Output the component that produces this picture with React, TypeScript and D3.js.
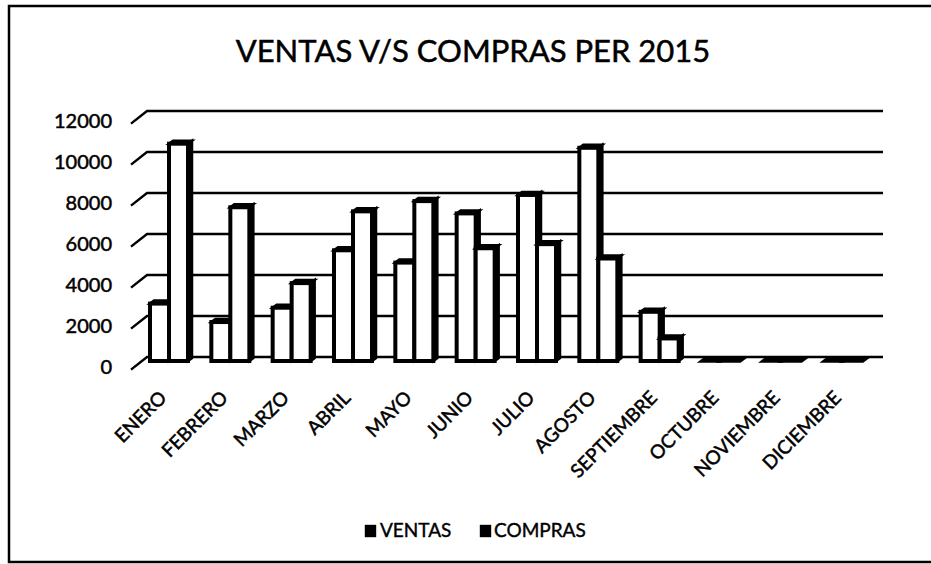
import React from 'react';
import * as d3 from 'd3';

const categories = [
  'ENERO', 'FEBRERO', 'MARZO', 'ABRIL', 'MAYO', 'JUNIO',
  'JULIO', 'AGOSTO', 'SEPTIEMBRE', 'OCTUBRE', 'NOVIEMBRE', 'DICIEMBRE',
];
const seriesNames = ['VENTAS', 'COMPRAS'];
const ventas = [2800, 1900, 2600, 5400, 4800, 7200, 8100, 10400, 2400, 0, 0, 0];
const compras = [10600, 7500, 3800, 7300, 7800, 5500, 5700, 5000, 1100, 0, 0, 0];
const yTicks = [0, 2000, 4000, 6000, 8000, 10000, 12000];

const FONT = 'Lato, "Liberation Sans", sans-serif';

// 3d offsets
const dx = 4;
const dy = -3;
const wallDx = 16;
const wallDy = -12.6;

const App = () => {
  const gridY = d3.scaleLinear().domain([0, 12000]).range([357, 111]);
  const barY = d3.scaleLinear().domain([0, 12000]).range([361, 115]);
  const x0 = d3.scaleBand().domain(categories).range([131, 867]);
  const x1 = d3.scaleBand().domain(seriesNames).range([19, 57]);

  const rows = categories.map((c, i) => ({ cat: c, values: [ventas[i], compras[i]] }));

  const bar = (x: number, w: number, v: number, key: string) => {
    const yt = barY(v);
    const yb = barY(0);
    const top = [[x, yt], [x + dx, yt + dy], [x + w + dx, yt + dy], [x + w, yt]];
    const side = [[x + w, yt], [x + w + dx, yt + dy], [x + w + dx, yb + dy], [x + w, yb]];
    const pts = (p: number[][]) => p.map((q) => q.join(',')).join(' ');
    return (
      <g key={key}>
        {v > 0 && (
          <rect x={x} y={yt} width={w} height={yb - yt} fill="#fff" stroke="#000" strokeWidth={4} />
        )}
        {v > 0 && <polygon points={pts(side)} fill="#000" stroke="#000" strokeWidth={2.5} />}
        <polygon points={pts(top)} fill="#000" stroke="#000" strokeWidth={v > 0 ? 2.5 : 3.5} />
      </g>
    );
  };

  return (
    <svg width={931} height={564} style={{ position: 'absolute', left: 0, top: 0, background: '#fff' }}>
      <rect x={9} y={6} width={940} height={556} fill="#fff" stroke="#000" strokeWidth={2.5} />

      <text x={473} y={62} textAnchor="middle" fontFamily={FONT} fontSize={31} fill="#000" stroke="#000" strokeWidth={0.5}>
        VENTAS V/S COMPRAS PER 2015
      </text>

      {yTicks.map((t) => {
        const y = gridY(t);
        return (
          <g key={t}>
            <path
              d={`M131,${y - wallDy} L${131 + wallDx},${y} L883,${y}`}
              fill="none"
              stroke="#000"
              strokeWidth={2.4}
            />
            <text x={112} y={y + 10} dy="0.35em" textAnchor="end" fontFamily={FONT} fontSize={20} fill="#000" stroke="#000" strokeWidth={0.5}>
              {t}
            </text>
          </g>
        );
      })}

      {rows.map((r) => (
        <g key={r.cat} transform={`translate(${x0(r.cat)},0)`}>
          {r.values.map((v, j) => bar(x1(seriesNames[j]) as number, x1.bandwidth(), v, seriesNames[j]))}
        </g>
      ))}

      {categories.map((c) => {
        const cx = (x0(c) as number) + x0.bandwidth() / 2 + 6;
        return (
          <g key={c} transform={`translate(${cx},399)`}>
            <g transform="rotate(-45)">
              <text
                x={0}
                y={0}
                textAnchor="end"
                fontFamily={FONT}
                fontSize={19}
                fill="#000"
                stroke="#000"
                strokeWidth={0.5}
              >
                {c}
              </text>
            </g>
          </g>
        );
      })}

      <g fontFamily={FONT} fontSize={19} fill="#000" stroke="#000" strokeWidth={0.4}>
        <rect x={365} y={525} width={11} height={12} fill="#000" />
        <text x={380} y={537}>{seriesNames[0]}</text>
        <rect x={480} y={525} width={11} height={12} fill="#000" />
        <text x={494} y={537}>{seriesNames[1]}</text>
      </g>
    </svg>
  );
};

export default App;
